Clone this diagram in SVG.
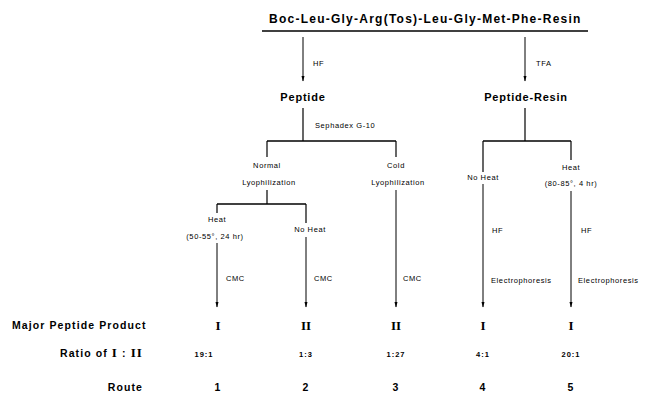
<svg xmlns="http://www.w3.org/2000/svg" width="648" height="414" viewBox="0 0 648 414">
<defs>
<marker id="arr" markerUnits="userSpaceOnUse" markerWidth="6" markerHeight="8" refX="7" refY="3" orient="auto" viewBox="0 0 8 6">
<path d="M0,0.9 L7.5,3 L0,5.1 Z" fill="#000"/>
</marker>
</defs>
<style>
text{font-family:"Liberation Sans","DejaVu Sans",sans-serif;fill:#000}
.big{font-size:12px;font-weight:bold;letter-spacing:0.6px}
.mid{font-size:11px;font-weight:bold;letter-spacing:0.8px}
.sm{font-size:7.5px;letter-spacing:0.6px}
.row{font-size:10.5px;font-weight:bold;letter-spacing:1.1px}
.rn{font-family:"Liberation Serif","DejaVu Serif",serif;font-size:13px;font-weight:bold}
.rv{font-size:7.5px;font-weight:bold;letter-spacing:1px}
.c{text-anchor:middle}
.ln{stroke:#000;stroke-width:1.2;fill:none}
.tk{stroke:#000;stroke-width:1.6;fill:none}
.ar{stroke:#000;stroke-width:1;fill:none;marker-end:url(#arr)}
</style>
<g id="connectors">
<line class="tk" x1="262" y1="31" x2="588" y2="31"/>
<line class="ar" x1="303" y1="37" x2="303" y2="81"/>
<line class="ar" x1="525" y1="37" x2="525" y2="81"/>
<line class="ln" x1="303" y1="108" x2="303" y2="141"/>
<line class="tk" x1="267" y1="141" x2="396" y2="141"/>
<line class="ln" x1="267" y1="141" x2="267" y2="157"/>
<line class="ln" x1="396" y1="141" x2="396" y2="157"/>
<line class="ln" x1="267" y1="190" x2="267" y2="204"/>
<line class="tk" x1="217" y1="204" x2="306" y2="204"/>
<line class="ln" x1="217" y1="204" x2="217" y2="213"/>
<line class="ln" x1="306" y1="204" x2="306" y2="223"/>
<line class="ar" x1="217" y1="243" x2="217" y2="307"/>
<line class="ar" x1="306" y1="237" x2="306" y2="307"/>
<line class="ar" x1="396" y1="190" x2="396" y2="307"/>
<line class="ln" x1="525" y1="108" x2="525" y2="141"/>
<line class="tk" x1="483" y1="141" x2="571" y2="141"/>
<line class="ln" x1="483" y1="141" x2="483" y2="172"/>
<line class="ar" x1="483" y1="184" x2="483" y2="307"/>
<line class="ln" x1="571" y1="141" x2="571" y2="160"/>
<line class="ar" x1="571" y1="191" x2="571" y2="307"/>
</g>
<g id="title"><text class="big c" x="425" y="23" textLength="312" lengthAdjust="spacing">Boc-Leu-Gly-Arg(Tos)-Leu-Gly-Met-Phe-Resin</text></g>
<g id="label-hf"><text class="sm" x="313" y="66">HF</text></g>
<g id="label-tfa"><text class="sm" x="536" y="66">TFA</text></g>
<g id="peptide"><text class="mid c" x="303" y="101">Peptide</text></g>
<g id="peptide-resin"><text class="mid c" x="526" y="101">Peptide-Resin</text></g>
<g id="label-sephadex"><text class="sm" x="315" y="128">Sephadex G-10</text></g>
<g id="normal-lyo"><text class="sm c" x="267" y="168">Normal</text><text class="sm c" x="269" y="185">Lyophilization</text></g>
<g id="cold-lyo"><text class="sm c" x="396" y="168">Cold</text><text class="sm c" x="398" y="185">Lyophilization</text></g>
<g id="heat-1"><text class="sm c" x="217" y="222">Heat</text><text class="sm c" x="215" y="239">(50-55°, 24 hr)</text></g>
<g id="noheat-2"><text class="sm c" x="310" y="232">No Heat</text></g>
<g id="cmc-labels"><text class="sm" x="226" y="281">CMC</text><text class="sm" x="314" y="281">CMC</text><text class="sm" x="403" y="281">CMC</text></g>
<g id="noheat-4"><text class="sm c" x="483" y="180">No Heat</text></g>
<g id="heat-5"><text class="sm c" x="571" y="170">Heat</text><text class="sm c" x="571" y="186">(80-85°, 4 hr)</text></g>
<g id="hf-labels"><text class="sm" x="492" y="233">HF</text><text class="sm" x="581" y="233">HF</text></g>
<g id="electro-labels"><text class="sm" x="491" y="283">Electrophoresis</text><text class="sm" x="578" y="283">Electrophoresis</text></g>
<g id="row-product">
<text class="row" x="12" y="329">Major Peptide Product</text>
<text class="rn c" x="218" y="330">I</text><text class="rn c" x="306" y="330">II</text><text class="rn c" x="396" y="330">II</text><text class="rn c" x="483" y="330">I</text><text class="rn c" x="571" y="330">I</text>
</g>
<g id="row-ratio">
<text class="row" x="143" y="357" text-anchor="end">Ratio of <tspan class="rn">I</tspan> : <tspan class="rn">II</tspan></text>
<text class="rv c" x="204" y="357">19:1</text><text class="rv c" x="306" y="357">1:3</text><text class="rv c" x="396" y="357">1:27</text><text class="rv c" x="483" y="357">4:1</text><text class="rv c" x="571" y="357">20:1</text>
</g>
<g id="row-route">
<text class="row" x="143" y="391" text-anchor="end">Route</text>
<text class="row c" x="218" y="391">1</text><text class="row c" x="306" y="391">2</text><text class="row c" x="396" y="391">3</text><text class="row c" x="483" y="391">4</text><text class="row c" x="571" y="391">5</text>
</g>
</svg>
